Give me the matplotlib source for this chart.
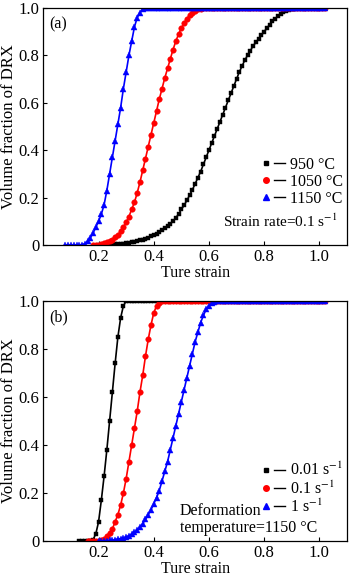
import numpy as np
import matplotlib
matplotlib.use('Agg')
import matplotlib.pyplot as plt
from matplotlib.lines import Line2D
from matplotlib.legend_handler import HandlerTuple

plt.rcParams['font.family'] = ['Liberation Serif', 'DejaVu Serif']
plt.rcParams['mathtext.fontset'] = 'stix'
plt.rcParams['font.size'] = 11

# values, strain step 0.01
# panel (a): strain rate 0.1 s-1, three temperatures
start_a_950 = 0.20
frac_a_950 = [0.0, 0.0, 0.001, 0.001, 0.002, 0.002, 0.003, 0.004, 0.005, 0.006,
              0.008, 0.010, 0.012, 0.014, 0.017, 0.020, 0.023, 0.027, 0.031, 0.036,
              0.042, 0.048, 0.055, 0.063, 0.071, 0.080, 0.090, 0.100, 0.115, 0.130,
              0.150, 0.168, 0.188, 0.210, 0.233, 0.258, 0.284, 0.310, 0.340, 0.370,
              0.400, 0.430, 0.460, 0.490, 0.520, 0.550, 0.580, 0.610, 0.640, 0.670,
              0.700, 0.730, 0.755, 0.780, 0.800, 0.820, 0.840, 0.855, 0.870, 0.885,
              0.900, 0.915, 0.930, 0.945, 0.955, 0.965, 0.975, 0.982, 0.988, 0.992,
              0.995, 0.997, 0.999, 1.0,
              1.0, 1.0, 1.0, 1.0, 1.0, 1.0, 1.0, 1.0, 1.0]

start_a_1050 = 0.18
frac_a_1050 = [0.0, 0.0, 0.002, 0.004, 0.007, 0.011, 0.016, 0.023, 0.032, 0.043,
               0.057, 0.075, 0.095, 0.120, 0.150, 0.180, 0.220, 0.265, 0.315, 0.365,
               0.415, 0.465, 0.515, 0.565, 0.615, 0.660, 0.705, 0.745, 0.785, 0.825,
               0.860, 0.890, 0.915, 0.935, 0.955, 0.970, 0.980, 0.988, 0.994, 0.998,
               1.0,
               1.0, 1.0, 1.0, 1.0, 1.0, 1.0, 1.0, 1.0, 1.0, 1.0,
               1.0, 1.0, 1.0, 1.0, 1.0, 1.0, 1.0, 1.0, 1.0, 1.0,
               1.0, 1.0, 1.0, 1.0, 1.0, 1.0, 1.0, 1.0, 1.0, 1.0,
               1.0, 1.0, 1.0, 1.0, 1.0, 1.0, 1.0, 1.0, 1.0, 1.0,
               1.0, 1.0, 1.0, 1.0]

start_a_1150 = 0.08
frac_a_1150 = [0.0, 0.0, 0.0, 0.0, 0.0, 0.0, 0.002, 0.005, 0.015, 0.030,
               0.050, 0.075, 0.100, 0.130, 0.170, 0.230, 0.300, 0.370, 0.440, 0.510,
               0.580, 0.660, 0.730, 0.800, 0.860, 0.920, 0.960, 0.980, 0.995, 1.0,
               1.0, 1.0, 1.0, 1.0, 1.0, 1.0, 1.0, 1.0, 1.0, 1.0,
               1.0, 1.0, 1.0, 1.0, 1.0, 1.0, 1.0, 1.0, 1.0, 1.0,
               1.0, 1.0, 1.0, 1.0, 1.0, 1.0, 1.0, 1.0, 1.0, 1.0,
               1.0, 1.0, 1.0, 1.0, 1.0, 1.0, 1.0, 1.0, 1.0, 1.0,
               1.0, 1.0, 1.0, 1.0, 1.0, 1.0, 1.0, 1.0, 1.0, 1.0,
               1.0, 1.0, 1.0, 1.0, 1.0, 1.0, 1.0, 1.0, 1.0, 1.0,
               1.0, 1.0, 1.0, 1.0, 1.0]

# panel (b): 1150 C, three strain rates
start_b_001 = 0.13
frac_b_001 = [0.0, 0.0, 0.0, 0.0, 0.0, 0.005, 0.030, 0.080, 0.170, 0.270,
              0.380, 0.500, 0.620, 0.740, 0.850, 0.930, 0.980, 1.0,
              1.0, 1.0, 1.0, 1.0, 1.0, 1.0, 1.0, 1.0, 1.0, 1.0,
              1.0, 1.0, 1.0, 1.0, 1.0, 1.0, 1.0, 1.0, 1.0, 1.0,
              1.0, 1.0, 1.0, 1.0, 1.0, 1.0, 1.0, 1.0, 1.0, 1.0,
              1.0, 1.0, 1.0, 1.0, 1.0, 1.0, 1.0, 1.0, 1.0, 1.0,
              1.0, 1.0, 1.0, 1.0, 1.0, 1.0, 1.0, 1.0, 1.0, 1.0,
              1.0, 1.0, 1.0, 1.0, 1.0, 1.0, 1.0, 1.0, 1.0, 1.0,
              1.0, 1.0, 1.0, 1.0, 1.0, 1.0, 1.0, 1.0, 1.0, 1.0,
              1.0, 1.0]

start_b_01 = 0.16
frac_b_01 = [0.0, 0.0, 0.0, 0.001, 0.002, 0.005, 0.010, 0.020, 0.035, 0.050,
             0.080, 0.110, 0.150, 0.200, 0.260, 0.330, 0.400, 0.470, 0.540, 0.620,
             0.690, 0.770, 0.840, 0.900, 0.950, 0.980, 0.990, 1.0,
             1.0, 1.0, 1.0, 1.0, 1.0, 1.0, 1.0, 1.0, 1.0, 1.0,
             1.0, 1.0, 1.0, 1.0, 1.0, 1.0, 1.0, 1.0, 1.0, 1.0,
             1.0, 1.0, 1.0, 1.0, 1.0, 1.0, 1.0, 1.0, 1.0, 1.0,
             1.0, 1.0, 1.0, 1.0, 1.0, 1.0, 1.0, 1.0, 1.0, 1.0,
             1.0, 1.0, 1.0, 1.0, 1.0, 1.0, 1.0, 1.0, 1.0, 1.0,
             1.0, 1.0, 1.0, 1.0, 1.0, 1.0, 1.0, 1.0, 1.0]

start_b_1 = 0.20
frac_b_1 = [0.0, 0.0, 0.001, 0.002, 0.003, 0.004, 0.006, 0.008, 0.010, 0.013,
            0.017, 0.022, 0.028, 0.036, 0.046, 0.058, 0.072, 0.090, 0.110, 0.130,
            0.155, 0.180, 0.210, 0.250, 0.290, 0.330, 0.380, 0.430, 0.480, 0.530,
            0.580, 0.630, 0.680, 0.730, 0.780, 0.830, 0.870, 0.910, 0.940, 0.965,
            0.980, 0.990, 0.995, 1.0,
            1.0, 1.0, 1.0, 1.0, 1.0, 1.0, 1.0, 1.0, 1.0, 1.0,
            1.0, 1.0, 1.0, 1.0, 1.0, 1.0, 1.0, 1.0, 1.0, 1.0,
            1.0, 1.0, 1.0, 1.0, 1.0, 1.0, 1.0, 1.0, 1.0, 1.0,
            1.0, 1.0, 1.0, 1.0, 1.0, 1.0, 1.0, 1.0, 1.0]

labels_a = ['950 °C', '1050 °C', '1150 °C']
labels_b = ['0.01 s$^{-1}$', '0.1 s$^{-1}$', '1 s$^{-1}$']
colors = ['black', 'red', 'blue']
markers = ['s', 'o', '^']
msizes = [3.4, 4.0, 4.4]

xticks = [0.2, 0.4, 0.6, 0.8, 1.0]
xtick_labels = ['0.2', '0.4', '0.6', '0.8', '1.0']
yticks = [0, 0.2, 0.4, 0.6, 0.8, 1.0]
ytick_labels = ['0', '0.2', '0.4', '0.6', '0.8', '1.0']


def strain_of(start, frac):
    return start + 0.01 * np.arange(len(frac))


fig = plt.figure(figsize=(3.5, 5.77), dpi=100)
ax_a = fig.add_axes([0.124, 0.5754, 0.867, 0.4106])
ax_b = fig.add_axes([0.124, 0.0624, 0.867, 0.4159])

series_a = [(start_a_950, frac_a_950), (start_a_1050, frac_a_1050), (start_a_1150, frac_a_1150)]
series_b = [(start_b_001, frac_b_001), (start_b_01, frac_b_01), (start_b_1, frac_b_1)]

for ax, series, labels, tag, leg_y in [(ax_a, series_a, labels_a, '(a)', 0.405),
                                       (ax_b, series_b, labels_b, '(b)', 0.362)]:
    handles = []
    for (start, frac), c, m, ms in zip(series, colors, markers, msizes):
        ax.plot(strain_of(start, frac), frac, color=c, marker=m, markersize=ms,
                linewidth=1.2, markeredgewidth=0.3)
        h_m = Line2D([], [], color=c, marker=m, markersize=ms, linestyle='none')
        h_l = Line2D([], [], color='black', linewidth=1.0)
        handles.append((h_m, h_l))
    ax.set_xlim(0, 1.1)
    ax.set_ylim(0, 1.0)
    ax.set_xticks(xticks)
    ax.set_xticklabels(xtick_labels)
    ax.set_yticks(yticks)
    ax.set_yticklabels(ytick_labels)
    ax.tick_params(direction='in', length=3, width=0.8, pad=3, labelsize=12)
    ax.set_xlabel('Ture strain', fontsize=11.5, labelpad=0)
    ax.set_ylabel('Volume fraction of DRX', fontsize=12, labelpad=1)
    for sp in ax.spines.values():
        sp.set_linewidth(0.9)
    ax.text(0.02, 0.965, tag, transform=ax.transAxes, fontsize=11.5, va='top', ha='left')
    ax.legend(handles, labels, handler_map={tuple: HandlerTuple(ndivide=None, pad=0.2)},
              loc='upper left', bbox_to_anchor=(0.69, leg_y),
              frameon=False, handlelength=1.5, handletextpad=0.3,
              labelspacing=0.05, borderpad=0, fontsize=11.5)

ax_a.text(0.97, 0.10, 'Strain rate=0.1 s$^{-1}$', transform=ax_a.transAxes,
          ha='right', va='center', fontsize=11)
ax_b.text(0.45, 0.125, 'Deformation', transform=ax_b.transAxes,
          ha='left', va='center', fontsize=11.5)
ax_b.text(0.45, 0.055, 'temperature=1150 °C', transform=ax_b.transAxes,
          ha='left', va='center', fontsize=11.5)

fig.savefig('out.png', dpi=100)
